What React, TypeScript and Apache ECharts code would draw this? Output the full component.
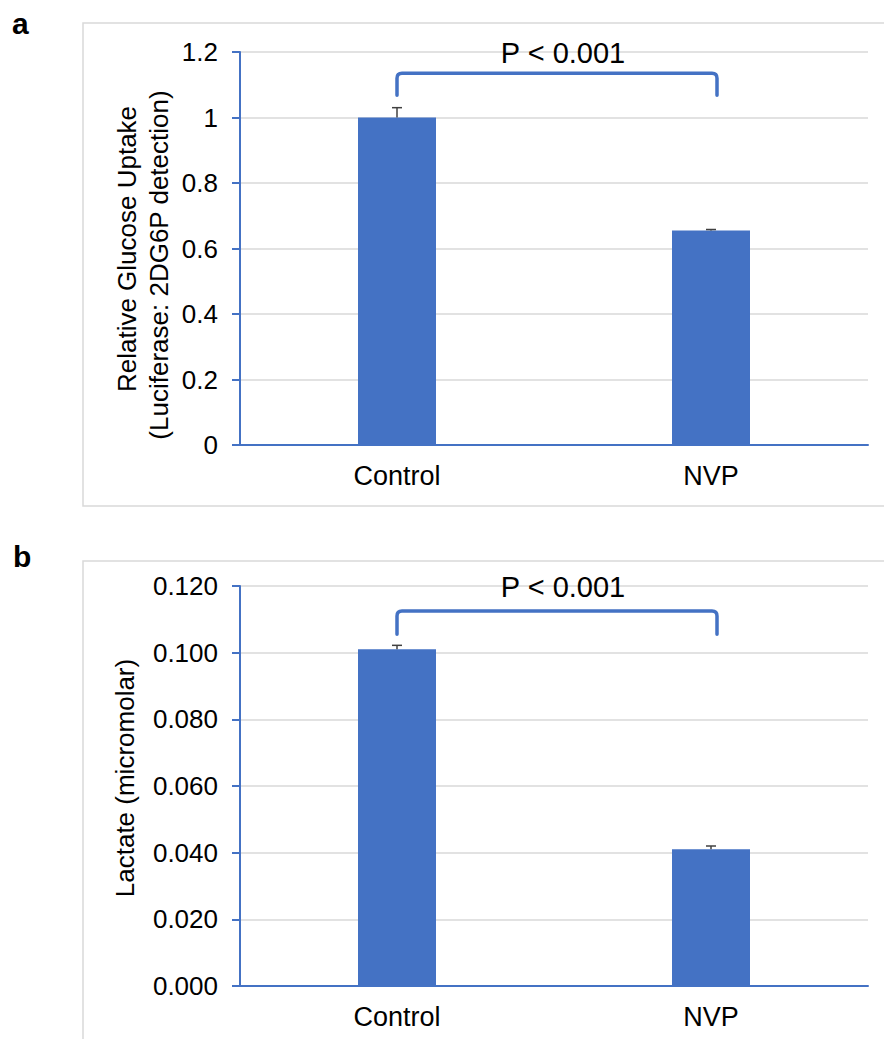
import React, { useEffect, useRef } from "react";
import * as echarts from "echarts";

const categories = ["Control", "NVP"];
const glucoseValues = [1.0, 0.655];
const glucoseErrors = [0.03, 0.003];
const lactateValues = [0.101, 0.041];
const lactateErrors = [0.0012, 0.001];
// bracket: [top level, end level]
const glucoseBracket = [1.135, 1.068];
const lactateBracket = [0.1125, 0.1055];
const pLabel = "P < 0.001";
const glucoseTitle = ["Relative Glucose Uptake", "(Luciferase: 2DG6P detection)"];
const lactateTitle = "Lactate (micromolar)";

const BLUE = "#4472C4";
const GRID = "#D9D9D9";
const FONT = "'Liberation Sans', Arial, sans-serif";

function errorRender(params: any, api: any) {
  const x = api.value(0);
  const p1 = api.coord([x, api.value(1)]);
  const p2 = api.coord([x, api.value(2)]);
  const style = { stroke: "#404040", lineWidth: 1.5 };
  return {
    type: "group",
    children: [
      { type: "line", shape: { x1: p1[0], y1: p1[1], x2: p2[0], y2: p2[1] }, style },
      { type: "line", shape: { x1: p2[0] - 5, y1: p2[1], x2: p2[0] + 5, y2: p2[1] }, style },
    ],
  };
}

function bracketRender(params: any, api: any) {
  const top = api.value(0);
  const end = api.value(1);
  const labelVal = api.value(2);
  const l = api.coord([0, top]);
  const r = api.coord([1, top]);
  const lb = api.coord([0, end]);
  const lx = l[0];
  const rx = r[0] + 6;
  const ty = l[1];
  const by = lb[1];
  const rad = 5;
  const d = `M${lx},${by} L${lx},${ty + rad} Q${lx},${ty} ${lx + rad},${ty} L${rx - rad},${ty} Q${rx},${ty} ${rx},${ty + rad} L${rx},${by}`;
  const t = api.coord([0, labelVal]);
  return {
    type: "group",
    children: [
      {
        type: "path",
        shape: { pathData: d },
        style: { stroke: BLUE, lineWidth: 3.5, fill: null, lineCap: "round", lineJoin: "round" },
      },
      {
        type: "text",
        x: (lx + rx) / 2 + 6,
        y: t[1] + 1,
        style: {
          text: pLabel,
          fill: "#000",
          font: `29px ${FONT}`,
          align: "center",
          verticalAlign: "middle",
        },
      },
    ],
  };
}

export default function App() {
  const ref = useRef<HTMLDivElement>(null);
  useEffect(() => {
    if (!ref.current) return;
    const chart = echarts.init(ref.current, null, { renderer: "svg" });
    const tickLabel = { fontSize: 26, color: "#000", fontFamily: FONT };
    const yCommon = {
      type: "value",
      min: 0,
      axisLine: { show: true, lineStyle: { color: BLUE, width: 2 } },
      axisTick: { show: true, length: 8, lineStyle: { color: BLUE, width: 2 } },
      splitLine: { show: true, lineStyle: { color: GRID, width: 1.5 } },
      axisLabel: { ...tickLabel, margin: 22 },
    };
    const xCommon = {
      type: "category",
      data: categories,
      axisLine: { show: true, lineStyle: { color: BLUE, width: 2 } },
      axisTick: { show: false },
      axisLabel: { fontSize: 27, color: "#000", fontFamily: FONT, margin: 17 },
    };
    chart.setOption({
      animation: false,
      backgroundColor: "#fff",
      grid: [
        { left: 240, top: 52, width: 628, height: 393 },
        { left: 240, top: 586, width: 628, height: 400 },
      ],
      xAxis: [
        { ...xCommon, gridIndex: 0 },
        { ...xCommon, gridIndex: 1 },
      ],
      yAxis: [
        { ...yCommon, gridIndex: 0, max: 1.2, interval: 0.2 },
        {
          ...yCommon,
          gridIndex: 1,
          max: 0.12,
          interval: 0.02,
          axisLabel: { ...tickLabel, margin: 22, formatter: (v: number) => v.toFixed(3) },
        },
      ],
      graphic: [
        { type: "rect", shape: { x: 83, y: 23, width: 840, height: 483 }, style: { fill: "none", stroke: GRID, lineWidth: 1.5 }, z: -1 },
        { type: "rect", shape: { x: 83, y: 561, width: 840, height: 520 }, style: { fill: "none", stroke: GRID, lineWidth: 1.5 }, z: -1 },
        { type: "text", left: 12, top: 8, style: { text: "a", font: `bold 30px ${FONT}`, fill: "#000" } },
        { type: "text", left: 13, top: 541, style: { text: "b", font: `bold 30px ${FONT}`, fill: "#000" } },
        {
          type: "text", x: 127, y: 249, rotation: Math.PI / 2,
          style: { text: glucoseTitle[0], font: `26px ${FONT}`, fill: "#000", align: "center", verticalAlign: "middle" },
        },
        {
          type: "text", x: 159, y: 265, rotation: Math.PI / 2,
          style: { text: glucoseTitle[1], font: `26px ${FONT}`, fill: "#000", align: "center", verticalAlign: "middle" },
        },
        {
          type: "text", x: 125, y: 778, rotation: Math.PI / 2,
          style: { text: lactateTitle, font: `26px ${FONT}`, fill: "#000", align: "center", verticalAlign: "middle" },
        },
      ],
      series: [
        {
          type: "bar", xAxisIndex: 0, yAxisIndex: 0, data: glucoseValues, barWidth: 78,
          itemStyle: { color: BLUE },
        },
        {
          type: "custom", xAxisIndex: 0, yAxisIndex: 0, renderItem: errorRender, z: 5,
          data: glucoseValues.map((v, i) => [i, v, v + glucoseErrors[i]]),
        },
        {
          type: "custom", xAxisIndex: 0, yAxisIndex: 0, renderItem: bracketRender, z: 5,
          data: [[glucoseBracket[0], glucoseBracket[1], 1.2]],
        },
        {
          type: "bar", xAxisIndex: 1, yAxisIndex: 1, data: lactateValues, barWidth: 78,
          itemStyle: { color: BLUE },
        },
        {
          type: "custom", xAxisIndex: 1, yAxisIndex: 1, renderItem: errorRender, z: 5,
          data: lactateValues.map((v, i) => [i, v, v + lactateErrors[i]]),
        },
        {
          type: "custom", xAxisIndex: 1, yAxisIndex: 1, renderItem: bracketRender, z: 5,
          data: [[lactateBracket[0], lactateBracket[1], 0.12]],
        },
      ],
    });
    return () => chart.dispose();
  }, []);
  return (
    <div
      ref={ref}
      style={{ position: "absolute", left: 0, top: 0, width: 884, height: 1039 }}
    />
  );
}
